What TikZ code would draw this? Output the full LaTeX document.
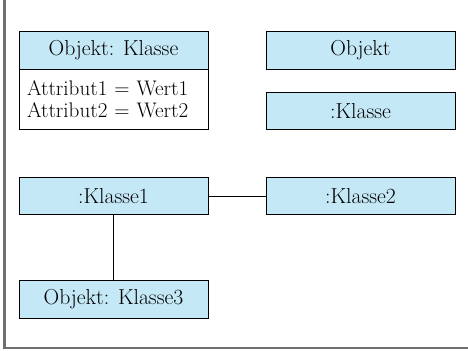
\documentclass[tikz,border=0pt]{standalone}
\usepackage{amsmath}
\usepackage{tikz}
\usetikzlibrary{positioning}
\definecolor{objblau}{RGB}{197,232,247}
\definecolor{rahmengrau}{RGB}{112,112,112}

\begin{document}
\begin{tikzpicture}[
    objekt/.style={draw, fill=objblau, line width=0.8pt, minimum width=5.67cm,
      minimum height=1.12cm, inner sep=0pt, font=\fontsize{18.5}{21}\selectfont},
    werteliste/.style={draw, fill=white, line width=0.8pt, minimum height=1.8cm,
      inner xsep=0.24cm, inner ysep=0pt, text width=5.19cm, align=left,
      font=\fontsize{18}{18.5}\selectfont},
    verbindung/.style={line width=0.8pt}
  ]
          \useasboundingbox (0,0) rectangle (14.04,10.5);
            % Rahmen
          \draw[rahmengrau, line width=2pt] (0.135,10.5) -- (0.135,0.06) -- (14.04,0.06);

            % Notation
          \node[objekt] (kopf) at (3.405,8.985) {Objekt: Klasse};
          \node[werteliste, below=-0.8pt of kopf] (werte) {Attribut1 = Wert1\\Attribut2 = Wert2};
          \node[objekt] (objekt) at (10.815,8.985) {Objekt};
          \node[objekt] (klasse) at (10.815,7.17) {:Klasse};

            % Beispiel
          \node[objekt] (klasse1) at (3.405,4.62) {:Klasse1};
          \node[objekt] (klasse2) at (10.815,4.62) {:Klasse2};
          \node[objekt] (klasse3) at (3.405,1.515) {Objekt: Klasse3};
          \draw[verbindung] (klasse1) -- (klasse2);
          \draw[verbindung] (klasse1) -- (klasse3);
        \end{tikzpicture}
\end{document}
